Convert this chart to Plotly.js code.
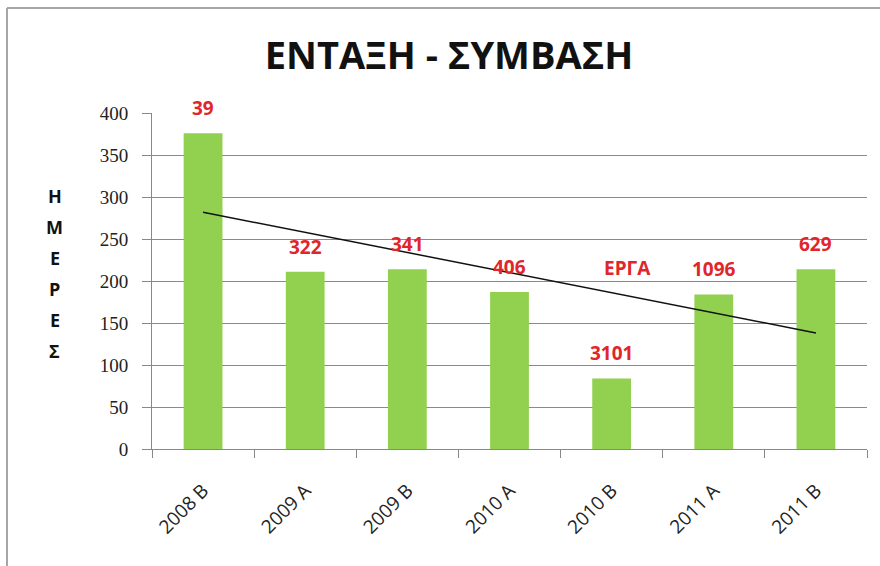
<!DOCTYPE html>
<html>
<head>
<meta charset="utf-8">
<script src="https://cdn.plot.ly/plotly-3.0.1.min.js"></script>
<style>
  html, body { margin: 0; padding: 0; background: #fff; }
  #chart { width: 880px; height: 566px; }
</style>
</head>
<body>
<div id="chart"></div>
<script>
// periods on the x axis
const periods = ['2008 B', '2009 A', '2009 B', '2010 A', '2010 B', '2011 A', '2011 B'];
// days (ΗΜΕΡΕΣ) per period
const days = [376, 211, 214, 187, 84, 184, 214];
// number of projects (ΕΡΓΑ) written above each bar
const projects = ['39', '322', '341', '406', '3101', '1096', '629'];
const yTicks = [0, 50, 100, 150, 200, 250, 300, 350, 400];
const yTitleLetters = ['Η', 'Μ', 'Ε', 'Ρ', 'Ε', 'Σ'];

// linear trendline through the bar values
const n = days.length;
const meanX = (n - 1) / 2;
const meanY = days.reduce((a, b) => a + b, 0) / n;
let num = 0, den = 0;
days.forEach((d, i) => { num += (i - meanX) * (d - meanY); den += (i - meanX) ** 2; });
const slope = num / den;
const trend = [meanY - slope * meanX, meanY + slope * (n - 1 - meanX)];

const red = '#e0262b';
const labelFont = { family: 'Open Sans, sans-serif', size: 19, color: red, weight: 'bold' };

const traces = [
  {
    type: 'bar',
    x: periods,
    y: days,
    marker: { color: '#92d050' },
    width: 0.38,
    hoverinfo: 'skip'
  },
  {
    type: 'scatter',
    mode: 'lines',
    x: [periods[0], periods[n - 1]],
    y: trend,
    line: { color: '#111', width: 1.5 },
    hoverinfo: 'skip'
  }
];

const annotations = periods.map((p, i) => ({
  x: p, y: days[i], text: projects[i],
  showarrow: false, yshift: 25, xanchor: 'center', yanchor: 'middle', font: labelFont
}));
annotations.push({
  xref: 'paper', x: 0.665, y: 215, text: 'ΕΡΓΑ',
  showarrow: false, xanchor: 'center', yanchor: 'middle', font: labelFont
});
// stacked vertical axis title, one letter per line (~31px apart)
yTitleLetters.forEach((ch, i) => {
  annotations.push({
    xref: 'paper', yref: 'paper', x: -0.1357, y: (449 - (196 + 31 * i)) / 336,
    xanchor: 'center', yanchor: 'middle',
    text: ch, showarrow: false,
    font: { family: 'Open Sans, sans-serif', size: 18, color: '#111', weight: 'bold' }
  });
});

const layout = {
  width: 880,
  height: 566,
  paper_bgcolor: '#fff',
  plot_bgcolor: '#fff',
  showlegend: false,
  margin: { l: 152, r: 13, t: 113, b: 117, pad: 0 },
  title: {
    text: 'ΕΝΤΑΞΗ - ΣΥΜΒΑΣΗ',
    x: 449 / 880, xref: 'container', xanchor: 'center',
    y: 1 - 56 / 566, yref: 'container', yanchor: 'middle',
    font: { family: 'Open Sans, sans-serif', size: 38, color: '#111', weight: 'bold' }
  },
  xaxis: {
    type: 'category',
    tickangle: -45,
    ticks: 'outside',
    tickson: 'boundaries',
    ticklen: 8,
    tickcolor: '#888',
    showline: true,
    linecolor: '#888',
    showgrid: false,
    ticklabelstandoff: 22,
    tickfont: { family: 'Open Sans, sans-serif', size: 19, color: '#222' }
  },
  yaxis: {
    range: [0, 400],
    tickvals: yTicks,
    ticks: 'outside',
    ticklen: 9,
    tickcolor: '#888',
    showline: true,
    linecolor: '#888',
    gridcolor: '#8a8a8a',
    gridwidth: 1,
    zeroline: false,
    ticklabelstandoff: 10,
    tickfont: { family: 'Liberation Serif, serif', size: 19, color: '#222' }
  },
  annotations: annotations,
  shapes: [
    // chart frame: only top and left edges fall inside the picture
    { type: 'line', xref: 'paper', yref: 'paper', x0: -0.2028, x1: 1.02, y0: 1.3125, y1: 1.3125,
      line: { color: '#a6a6a6', width: 2 } },
    { type: 'line', xref: 'paper', yref: 'paper', x0: -0.2028, x1: -0.2028, y0: 1.3125, y1: -0.35,
      line: { color: '#a6a6a6', width: 2 } }
  ]
};

Plotly.newPlot('chart', traces, layout, { displayModeBar: false, staticPlot: true });
</script>
</body>
</html>
